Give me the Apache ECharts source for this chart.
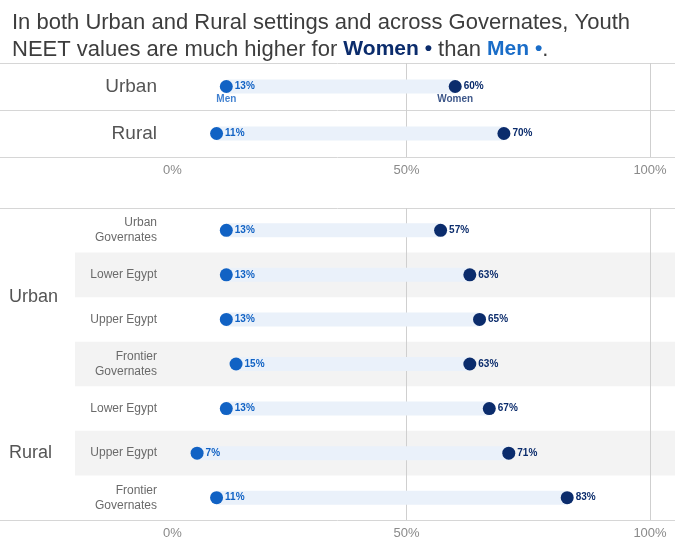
<!DOCTYPE html>
<html>
<head>
<meta charset="utf-8">
<script src="https://cdn.jsdelivr.net/npm/echarts@6/dist/echarts.min.js"></script>
<style>html,body{margin:0;padding:0;background:#fff}#c{width:675px;height:545px}</style>
</head>
<body>
<div id="c"></div>
<script>
// ---- data ----
const topCats = ['Urban', 'Rural'];
const topMen = [13, 11];
const topWomen = [60, 70];
const botCats = ['Urban\nGovernates', 'Lower Egypt', 'Upper Egypt', 'Frontier\nGovernates', 'Lower Egypt', 'Upper Egypt', 'Frontier\nGovernates'];
const botMen = [13, 13, 13, 15, 13, 7, 11];
const botWomen = [57, 63, 65, 63, 67, 71, 83];
const groupNames = ['Urban', 'Rural'];
const groupSizes = [4, 3];
const xTickValues = [0, 50, 100];

// ---- styles ----
const MEN = '#1162c4';
const WOMEN = '#0b2c6c';
const BAND = '#eaf1fa';
const FONT = '"Liberation Sans", Arial, sans-serif';

// group label centres on a 0..N row scale
const groupCentres = [];
let acc = 0;
groupSizes.forEach(s => { groupCentres.push(acc + s / 2); acc += s; });

const chart = echarts.init(document.getElementById('c'));

function bandSeries(xi, yi, men, women) {
  return {
    type: 'custom', xAxisIndex: xi, yAxisIndex: yi, z: 2,
    encode: { x: [1, 2], y: 0 },
    data: men.map((m, i) => [i, m, women[i]]),
    renderItem: function (params, api) {
      const a = api.coord([api.value(1), api.value(0)]);
      const b = api.coord([api.value(2), api.value(0)]);
      const h = 14;
      return { type: 'rect', shape: { x: a[0], y: a[1] - h / 2, width: b[0] - a[0], height: h }, style: { fill: BAND } };
    },
    silent: true
  };
}
function dotSeries(xi, yi, vals, color) {
  return {
    type: 'scatter', xAxisIndex: xi, yAxisIndex: yi, z: 5,
    symbolSize: 13,
    itemStyle: { color: color, opacity: 1 },
    data: vals.map((v, i) => [v, i]),
    label: { show: true, position: 'right', distance: 2, formatter: p => p.value[0] + '%',
      color: color, fontWeight: 'bold', fontSize: 10, fontFamily: FONT }
  };
}
function noteSeries(xi, yi, val, text, color) {
  return {
    type: 'scatter', xAxisIndex: xi, yAxisIndex: yi, z: 6,
    symbolSize: 13, itemStyle: { color: 'rgba(0,0,0,0)' },
    data: [[val, 0]],
    label: { show: true, position: 'bottom', distance: 1, formatter: text,
      color: color, fontWeight: 'bold', fontSize: 10, fontFamily: FONT }
  };
}

const dataX = (gi) => ({
  type: 'value', gridIndex: gi, min: 0, max: 100, interval: 50,
  axisLine: { show: false }, axisTick: { show: false },
  splitLine: { show: true, showMinLine: false, lineStyle: { color: '#cfcfcf', width: 1 } },
  axisLabel: { formatter: v => xTickValues.includes(v) ? v + '%' : '', color: '#8a8a8a', fontSize: 13, fontFamily: FONT,
    margin: 7, alignMinLabel: 'left', alignMaxLabel: 'center' }
});
const hiddenX = (gi) => ({ type: 'value', gridIndex: gi, show: false, min: 0, max: 1 });

const option = {
  backgroundColor: '#fff',
  animation: false,
  title: {
    left: 7, top: 4,
    text: '{n|In both Urban and Rural settings and across Governates, Youth}\n{n|NEET values are much higher for }{w|Women •}{n| than }{m|Men •}{n|.}',
    textStyle: {
      fontWeight: 'normal',
      rich: {
        n: { fontSize: 22, color: '#3d3d3d', fontWeight: 'normal', fontFamily: FONT, lineHeight: 27 },
        w: { fontSize: 21, color: WOMEN, fontWeight: 'bold', fontFamily: FONT, lineHeight: 27 },
        m: { fontSize: 21, color: '#1a6dc8', fontWeight: 'bold', fontFamily: FONT, lineHeight: 27 }
      }
    }
  },
  grid: [
    { left: 0, right: 0, top: 63, height: 94 },        // 0 top lines
    { left: 163, right: 25, top: 63, height: 94 },     // 1 top data
    { left: 75, right: 0, top: 208, height: 312 },     // 2 bottom shading
    { left: 0, right: 0, top: 208, height: 312 },      // 3 bottom lines
    { left: 75, right: 0, top: 208, height: 312 },     // 4 group labels
    { left: 163, right: 25, top: 208, height: 312 }    // 5 bottom data
  ],
  xAxis: [hiddenX(0), dataX(1), hiddenX(2), hiddenX(3), hiddenX(4), dataX(5)],
  yAxis: [
    { type: 'category', gridIndex: 0, data: topCats, inverse: true,
      axisLine: { show: false }, axisTick: { show: false }, axisLabel: { show: false },
      splitLine: { show: true, lineStyle: { color: '#d6d6d6' } } },
    { type: 'category', gridIndex: 1, data: topCats, inverse: true,
      axisLine: { show: false }, axisTick: { show: false },
      axisLabel: { color: '#555', fontSize: 19, fontFamily: FONT, margin: 6 } },
    { type: 'category', gridIndex: 2, data: botCats, inverse: true,
      axisLine: { show: false }, axisTick: { show: false }, axisLabel: { show: false },
      splitArea: { show: true, areaStyle: { color: ['rgba(0,0,0,0)', '#f3f3f3'] } } },
    { type: 'value', gridIndex: 3, min: 0, max: 1, interval: 1,
      axisLine: { show: false }, axisTick: { show: false }, axisLabel: { show: false },
      splitLine: { show: true, lineStyle: { color: '#d6d6d6' } } },
    { type: 'value', gridIndex: 4, min: 0, max: 7, interval: 0.5, inverse: true,
      axisLine: { show: false }, axisTick: { show: false }, splitLine: { show: false },
      axisLabel: { align: 'left', margin: 66, color: '#555', fontSize: 18, fontFamily: FONT,
        formatter: v => { const k = groupCentres.indexOf(v); return k >= 0 ? groupNames[k] : ''; } } },
    { type: 'category', gridIndex: 5, data: botCats, inverse: true,
      axisLine: { show: false }, axisTick: { show: false },
      axisLabel: { color: '#6a6a6a', fontSize: 12, fontFamily: FONT, margin: 6, lineHeight: 15, align: 'right' } }
  ],
  series: [
    bandSeries(1, 1, topMen, topWomen),
    dotSeries(1, 1, topMen, MEN),
    dotSeries(1, 1, topWomen, WOMEN),
    noteSeries(1, 1, topMen[0], 'Men', MEN),
    noteSeries(1, 1, topWomen[0], 'Women', WOMEN),
    bandSeries(5, 5, botMen, botWomen),
    dotSeries(5, 5, botMen, MEN),
    dotSeries(5, 5, botWomen, WOMEN)
  ]
};
chart.setOption(option);
</script>
</body>
</html>
